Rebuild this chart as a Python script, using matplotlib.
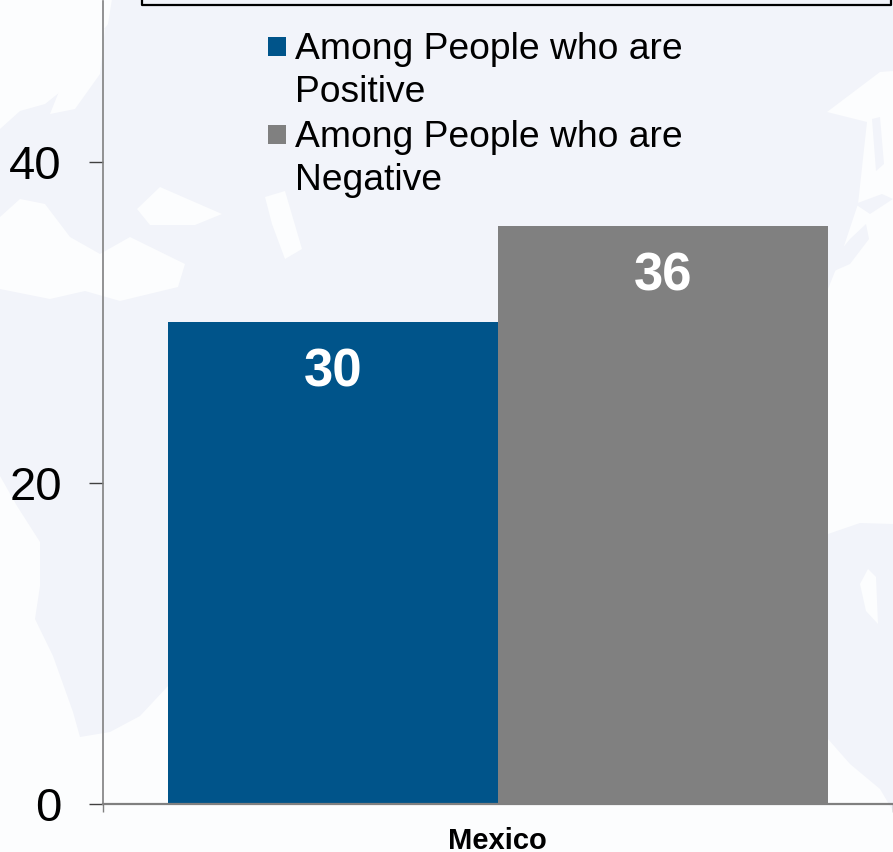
import numpy as np
import matplotlib
matplotlib.use("Agg")
from matplotlib import pyplot as plt
from matplotlib.patches import Polygon, Rectangle

W, H = 893, 853

categories = ["Mexico"]
positive = [30]
negative = [36]
series_names = ["Among People who are\nPositive", "Among People who are\nNegative"]
yticks = [0, 20, 40]

BLUE = "#00548a"
GREY = "#808080"
LAND = "#f2f4fa"
SEA = "#fcfdfe"

plt.rcParams["font.family"] = ["Liberation Sans", "DejaVu Sans"]

fig = plt.figure(figsize=(W / 100, H / 100), dpi=100, facecolor="white")

# faint map behind the chart, in pixels. land is the base, water goes on top
bg = fig.add_axes([0, 0, 1, 1], zorder=0)
bg.set_xlim(0, W)
bg.set_ylim(H, 0)
bg.axis("off")
bg.add_patch(Rectangle((0, 0), W, H, fc=LAND, ec="none"))
water = [
    # north atlantic, top left
    [(0, 0), (112, 0), (108, 25), (85, 55), (70, 85), (45, 105), (20, 112), (0, 130)],
    # baltic
    [(80, 35), (105, 30), (100, 75), (75, 110), (50, 115), (60, 90)],
    # mediterranean
    [(0, 218), (20, 200), (45, 205), (70, 238), (100, 255), (130, 238), (185, 265), (178, 288), (120, 302), (85, 292), (50, 300), (0, 290)],
    # black sea
    [(137, 210), (160, 188), (222, 215), (195, 226), (150, 226)],
    # caspian
    [(265, 198), (285, 192), (302, 250), (285, 260), (272, 225)],
    # pacific
    [(827, 113), (880, 73), (893, 72), (893, 525), (860, 524), (828, 535), (828, 290), (838, 265), (858, 205), (867, 123)],
    # south atlantic and indian ocean, the bars hide the middle
    [(0, 477), (17, 507), (40, 543), (40, 587), (35, 620), (53, 657), (73, 713), (80, 738), (110, 733),
     (140, 717), (168, 687), (828, 740), (850, 765), (880, 790), (893, 812), (893, H), (0, H)],
    # carpentaria
    [(860, 585), (868, 570), (876, 578), (878, 625), (866, 612)],
]
for p in water:
    bg.add_patch(Polygon(p, closed=True, fc=SEA, ec="none"))
islands = [
    [(872, 120), (880, 118), (884, 165), (876, 172)],
    [(832, 262), (850, 240), (866, 225), (869, 240), (850, 265), (834, 272)],
    [(855, 205), (882, 195), (893, 200), (870, 215)],
]
for p in islands:
    bg.add_patch(Polygon(p, closed=True, fc=LAND, ec="none"))

ax = fig.add_axes([102.8 / W, 1 - 804.5 / H, 790 / W, 802.5 / H], zorder=1)
ax.patch.set_alpha(0)

width = 330 / 790
x = np.arange(len(categories))
b1 = ax.bar(x - width / 2, positive, width, color=BLUE, zorder=2)
b2 = ax.bar(x + width / 2, negative, width, color=GREY, zorder=2)

for bars in (b1, b2):
    for r in bars:
        ax.annotate(str(int(r.get_height())), (r.get_x() + r.get_width() / 2, r.get_height()),
                    xytext=(0, -36), textcoords="offset points", ha="center", va="center",
                    color="white", fontsize=38, fontweight="bold", zorder=3)

ax.set_xlim(-0.5, 0.5)
ax.set_ylim(0, 50)
ax.set_yticks(yticks)
ax.set_xticks([-0.5, 0.5], minor=True)
ax.set_xticks(x)
ax.set_xticklabels(categories, fontsize=21, fontweight="bold")
ax.tick_params(axis="x", which="major", length=0, pad=16.5)
ax.tick_params(axis="x", which="minor", length=6, width=1, color=GREY)
ax.tick_params(axis="y", length=10, width=1, color="#404040", labelsize=34, pad=19.5)
for s in ("top", "right"):
    ax.spines[s].set_visible(False)
ax.spines["left"].set_color(GREY)
ax.spines["left"].set_linewidth(1.2)
ax.spines["bottom"].set_color(GREY)
ax.spines["bottom"].set_linewidth(1.6)

# legend by hand, the swatch sits on the first line of each entry
leg_colors = [BLUE, GREY]
leg_top = [47, 135]
for name, col, yc in zip(series_names, leg_colors, leg_top):
    fig.patches.append(Rectangle((267.5 / W, 1 - (yc + 9.5) / H), 18.5 / W, 19 / H, fc=col, ec="none",
                                 transform=fig.transFigure, figure=fig, zorder=3))
    fig.text(295 / W, 1 - (yc - 15) / H, name, fontsize=26.8, color="black", ha="left", va="top",
             linespacing=1.3, zorder=3)

# box cut off at the top of the frame
fig.add_artist(plt.Line2D([142 / W, 142 / W, 890.5 / W, 890.5 / W], [1, 1 - 5.7 / H, 1 - 5.7 / H, 1],
                          color="black", lw=1.6))

fig.savefig("out.png", dpi=100)
